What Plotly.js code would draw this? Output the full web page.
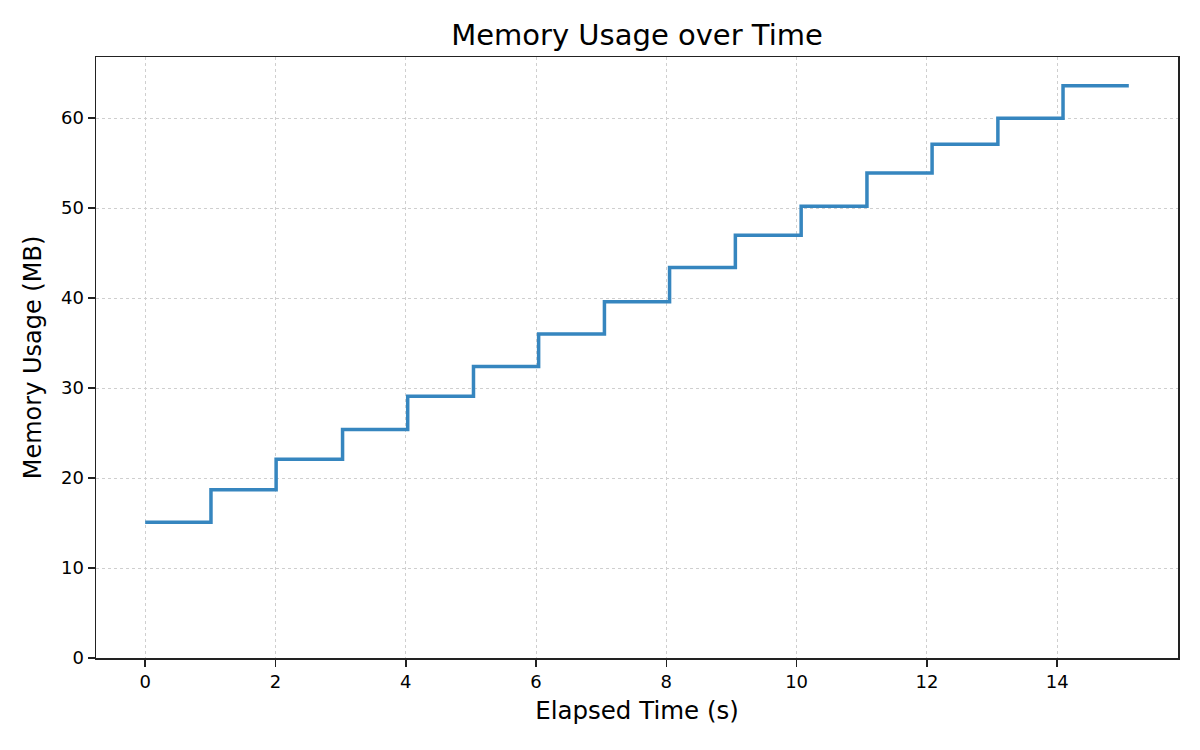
<!DOCTYPE html>
<html>
<head>
<meta charset="utf-8">
<script src="https://cdn.plot.ly/plotly-3.0.1.min.js"></script>
<style>html,body{margin:0;padding:0;background:#fff}#chart{width:1200px;height:750px}</style>
</head>
<body>
<div id="chart"></div>
<script>
const elapsedTime = [0, 1.01, 2.01, 3.03, 4.03, 5.04, 6.04, 7.05, 8.05, 9.06, 10.07, 11.08, 12.08, 13.09, 14.09, 15.10];
const memoryMB = [15.1, 18.7, 22.1, 25.4, 29.1, 32.4, 36.0, 39.6, 43.4, 47.0, 50.2, 53.9, 57.1, 60.0, 63.6, 63.6];
const xTickVals = [0, 2, 4, 6, 8, 10, 12, 14];
const yTickVals = [0, 10, 20, 30, 40, 50, 60];
const chartTitle = "Memory Usage over Time";
const xTitle = "Elapsed Time (s)";
const yTitle = "Memory Usage (MB)";

const font = "DejaVu Sans, sans-serif";
const trace = {
  x: elapsedTime,
  y: memoryMB,
  type: "scatter",
  mode: "lines",
  line: {shape: "hv", color: "rgb(54,134,191)", width: 3.5},
  hoverinfo: "x+y"
};
const axisCommon = {
  showline: true, mirror: true, linecolor: "#222", linewidth: 1.5,
  ticks: "outside", ticklen: 7, tickwidth: 1.5, tickcolor: "#222",
  showgrid: true, gridcolor: "#cfcfcf", gridwidth: 1, griddash: "dot",
  zeroline: false,
  tickfont: {family: font, size: 18, color: "#000"}
};
const layout = {
  width: 1200, height: 750,
  margin: {l: 96, r: 22, t: 57, b: 92},
  paper_bgcolor: "#fff", plot_bgcolor: "#fff",
  showlegend: false,
  title: {text: chartTitle, x: 0.5, xref: "paper", y: 0.953, yref: "container", yanchor: "middle",
          font: {family: font, size: 29, color: "#000"}},
  xaxis: Object.assign({}, axisCommon, {
    range: [-0.755, 15.855], tickvals: xTickVals,
    title: {text: xTitle, standoff: 11, font: {family: font, size: 24.5, color: "#000"}}
  }),
  yaxis: Object.assign({}, axisCommon, {
    range: [0, 66.8], tickvals: yTickVals,
    title: {text: yTitle, standoff: 12, font: {family: font, size: 24, color: "#000"}}
  })
};
Plotly.newPlot("chart", [trace], layout, {displayModeBar: false, staticPlot: true});
</script>
</body>
</html>
